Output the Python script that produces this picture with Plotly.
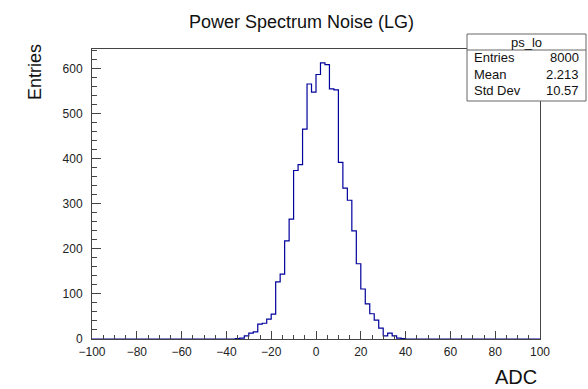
import numpy as np
import plotly.graph_objects as go

# ---------------- data ----------------
x_min, x_max, n_bins = -100, 100, 100
first_bin_low = -36
counts_core = [1, 2, 7, 13, 16, 33, 35, 44, 55,
               127, 144, 218, 266, 374, 387, 466, 566, 548,
               587, 613, 609, 555, 553,
               392, 335, 308, 240, 167, 111, 78, 56, 42, 24,
               7, 13, 7, 2, 1]
hist_name = "ps_lo"
stats_labels = ["Entries", "Mean", "Std Dev"]
stats_values = ["8000", "2.213", "10.57"]
title_text = "Power Spectrum Noise (LG)"
x_title = "ADC"
y_title = "Entries"

# ---------------- build histogram ----------------
edges = np.linspace(x_min, x_max, n_bins + 1)
bw = (x_max - x_min) / n_bins
start = int(round((first_bin_low - x_min) / bw))
counts = np.zeros(n_bins)
counts[start:start + len(counts_core)] = counts_core
ys = np.append(counts, counts[-1])

# ---------------- layout geometry (pixels) ----------------
W, H = 588, 389
L, R, T, B = 92, 540, 49, 339

def fx(p):
    return (p - L) / (R - L)

def fy(p):
    return (B - p) / (B - T)

FONT = "Liberation Sans, Arial, Helvetica, sans-serif"
AX = "#444444"

fig = go.Figure()
fig.add_trace(go.Scatter(x=edges, y=ys, mode="lines", line_shape="hv",
                         line=dict(color="#00009c", width=1.2),
                         hoverinfo="skip", showlegend=False))

ymax = 1.05 * counts.max()

fig.update_layout(
    width=W, height=H,
    margin=dict(l=L, r=W - R, t=T, b=H - B, pad=0),
    paper_bgcolor="white", plot_bgcolor="white",
    font=dict(family=FONT, color="#222222"),
    xaxis=dict(range=[x_min, x_max], dtick=20, tick0=0, ticks="inside",
               ticklen=8, tickwidth=1, tickcolor=AX,
               minor=dict(dtick=5, ticks="inside", ticklen=4, tickcolor=AX),
               showgrid=False, zeroline=False, showline=True, linecolor=AX,
               linewidth=1, mirror=True, tickfont=dict(size=12, color="#222222"),
               ticklabelstandoff=2),
    yaxis=dict(range=[0, ymax], dtick=100, tick0=0, ticks="inside",
               ticklen=9, tickwidth=1, tickcolor=AX,
               minor=dict(dtick=20, ticks="inside", ticklen=5, tickcolor=AX),
               showgrid=False, zeroline=False, showline=True, linecolor=AX,
               linewidth=1, mirror=True, tickfont=dict(size=12, color="#222222"),
               ticklabelstandoff=6),
)

ann = []
ann.append(dict(text=title_text, x=fx(301), y=fy(22), xref="paper", yref="paper",
                xanchor="center", yanchor="middle", showarrow=False,
                font=dict(size=18, color="#111111", family=FONT)))
ann.append(dict(text=x_title, x=fx(539), y=fy(377), xref="paper", yref="paper",
                xanchor="right", yanchor="middle", showarrow=False,
                font=dict(size=20, color="#111111", family=FONT)))
ann.append(dict(text=y_title, x=fx(35), y=fy(72), xref="paper", yref="paper",
                xanchor="center", yanchor="middle", showarrow=False, textangle=-90,
                font=dict(size=18, color="#111111", family=FONT)))

# stats box
bx0, bx1, by0, bsep, by1 = 467, 586, 34, 50, 101
shapes = [
    dict(type="rect", xref="paper", yref="paper", x0=fx(bx0), x1=fx(bx1),
         y0=fy(by1), y1=fy(by0), line=dict(color="#666666", width=1),
         fillcolor="white", layer="above"),
    dict(type="line", xref="paper", yref="paper", x0=fx(bx0), x1=fx(bx1),
         y0=fy(bsep), y1=fy(bsep), line=dict(color="#666666", width=1), layer="above"),
]
ann.append(dict(text=hist_name, x=fx((bx0 + bx1) / 2), y=fy(42), xref="paper",
                yref="paper", xanchor="center", yanchor="middle", showarrow=False,
                font=dict(size=13, color="#111111", family=FONT)))
row_y = [58, 74.5, 91]
for lab, val, ry in zip(stats_labels, stats_values, row_y):
    ann.append(dict(text=lab, x=fx(bx0 + 5), y=fy(ry), xref="paper", yref="paper",
                    xanchor="left", yanchor="middle", showarrow=False,
                    font=dict(size=13, color="#111111", family=FONT)))
    ann.append(dict(text=val, x=fx(bx1 - 5), y=fy(ry), xref="paper", yref="paper",
                    xanchor="right", yanchor="middle", showarrow=False,
                    font=dict(size=13, color="#111111", family=FONT)))

fig.update_layout(annotations=ann, shapes=shapes)
fig.write_html("out.html")
